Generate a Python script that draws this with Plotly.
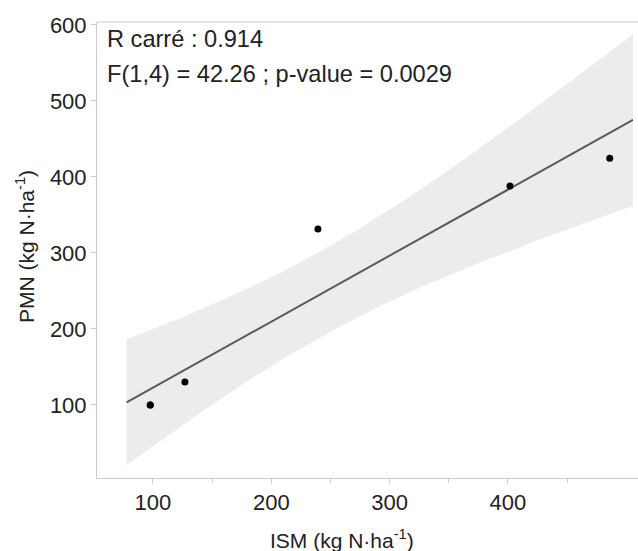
import numpy as np
import plotly.graph_objects as go

# Data (ISM, PMN in kg N/ha); two samples overlap near (98, 100)
ism = [97.7, 97.7, 127.0, 239.4, 401.7, 486.0]
pmn = [100.0, 100.0, 130.3, 331.6, 388.0, 424.7]

fit_x_min, fit_x_max = 77.7, 505.6
t_975_df4 = 2.776

stats_lines = ["R carré : 0.914", "F(1,4) = 42.26 ; p-value = 0.0029"]
x_ticks = [100, 200, 300, 400]
x_minor = [150, 250, 350, 450]
y_ticks = [100, 200, 300, 400, 500, 600]

x = np.array(ism)
y = np.array(pmn)
n = len(x)
slope, intercept = np.polyfit(x, y, 1)
resid = y - (slope * x + intercept)
s = np.sqrt(np.sum(resid ** 2) / (n - 2))
sxx = np.sum((x - x.mean()) ** 2)
xf = np.linspace(fit_x_min, fit_x_max, 120)
yf = slope * xf + intercept
half = t_975_df4 * s * np.sqrt(1 / n + (xf - x.mean()) ** 2 / sxx)

font = "Liberation Sans, Arial, Helvetica, sans-serif"
FS = 23.6
TS = 21
fig = go.Figure()
fig.add_trace(go.Scatter(
    x=np.concatenate([xf, xf[::-1]]),
    y=np.concatenate([yf + half, (yf - half)[::-1]]),
    fill="toself", fillcolor="#ececec", line=dict(width=0),
    mode="lines", hoverinfo="skip", showlegend=False))
fig.add_trace(go.Scatter(x=xf, y=yf, mode="lines",
                         line=dict(color="#5a5a5a", width=2), showlegend=False))
fig.add_trace(go.Scatter(x=ism, y=pmn, mode="markers",
                         marker=dict(color="#000000", size=7), showlegend=False))

W, H = 638, 551
ml, mr, mt, mb = 97, 0, 22, 73
pw, ph = W - ml - mr, H - mt - mb

def px_x(p):
    return (p - ml) / pw

def px_y(p):
    return 1 - (p - mt) / ph

fig.update_layout(
    width=W, height=H,
    margin=dict(l=ml, r=mr, t=mt, b=mb, autoexpand=False),
    paper_bgcolor="white", plot_bgcolor="white",
    font=dict(family=font, size=FS, color="#222222"),
    xaxis=dict(range=[52.7, 509.9], tickvals=x_ticks, showgrid=False, zeroline=False,
               showline=True, linecolor="#cccccc", linewidth=1,
               ticks="outside", ticklen=5, tickcolor="#cccccc",
               minor=dict(tickvals=x_minor, ticks="outside", ticklen=4, tickcolor="#cccccc"),
               tickfont=dict(size=22, color="#222222")),
    yaxis=dict(range=[3.9, 603.9], tickvals=y_ticks, showgrid=False, zeroline=False,
               showline=True, linecolor="#cccccc", linewidth=1,
               ticks="outside", ticklen=5, tickcolor="#cccccc",
               tickfont=dict(size=22, color="#222222")),
    shapes=[dict(type="line", xref="paper", yref="paper", x0=0, x1=1, y0=1, y1=1,
                 line=dict(color="#cccccc", width=1))],
    annotations=[
        dict(text=stats_lines[0], xref="paper", yref="paper", x=px_x(105), y=px_y(38.5),
             xanchor="left", yanchor="middle", showarrow=False, font=dict(size=FS)),
        dict(text=stats_lines[1], xref="paper", yref="paper", x=px_x(105), y=px_y(74),
             xanchor="left", yanchor="middle", showarrow=False, font=dict(size=FS)),
        dict(text="ISM (kg N·ha<sup>-1</sup>)", xref="paper", yref="paper",
             x=px_x(342), y=px_y(539), xanchor="center", yanchor="middle",
             showarrow=False, font=dict(size=TS)),
        dict(text="PMN (kg N·ha<sup>-1</sup>)", xref="paper", yref="paper",
             x=px_x(25), y=px_y(247), xanchor="center", yanchor="middle", textangle=-90,
             showarrow=False, font=dict(size=TS)),
    ],
)

fig.write_html("out.html")
